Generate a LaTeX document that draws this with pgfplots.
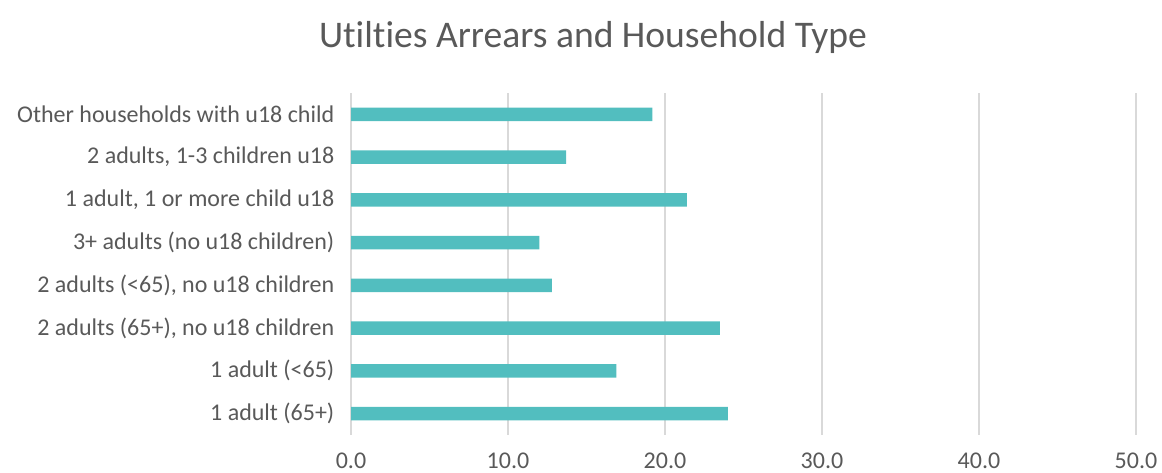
\documentclass[border=0pt]{standalone}
\usepackage{pgfplots}
\pgfplotsset{compat=1.18}
\usepackage{fontspec}
\setmainfont{Carlito}[Ligatures={NoCommon}]
\definecolor{barc}{HTML}{52BEBF}
\definecolor{txt}{HTML}{595959}
\definecolor{gridc}{HTML}{D9D9D9}
\begin{document}
\begin{tikzpicture}
\begin{axis}[
  at={(263.25pt,28.5pt)}, anchor=south west,
  scale only axis, width=588.75pt, height=256.5pt,
  xbar, bar width=10.1pt,
  xmin=0, xmax=50, ymin=-0.5, ymax=7.5,
  xtick={0,10,20,30,40,50},
  ytick={0,1,2,3,4,5,6,7},
  yticklabels={1 adult (65+),1 adult (<65),{2 adults (65+), no u18 children},{2 adults (<65), no u18 children},3+ adults (no u18 children),{1 adult, 1 or more child u18},{2 adults, 1-3 children u18},Other households with u18 child},
  xmajorgrids=true, ymajorgrids=false,
  major grid style={draw=gridc, line width=1.1pt},
  axis line style={draw=none},
  major tick length=0pt,
  tick label style={font=\fontsize{18}{21}\selectfont, text=txt},
  /pgf/number format/assume math mode=true,
  xticklabel={\pgfmathprintnumber[fixed,fixed zerofill,precision=1]{\tick}},
  xticklabel style={yshift=-10pt},
  yticklabel style={xshift=-9pt},
  clip=false,
]
\addplot[fill=barc, draw=none] coordinates {
(24.0,0) (16.9,1) (23.5,2) (12.8,3) (12.0,4) (21.4,5) (13.7,6) (19.2,7)};
\end{axis}
\node[text=txt, font=\fontsize{28.2}{33}\selectfont] at (444.75pt,327pt) {Utilties Arrears and Household Type};
\pgfresetboundingbox
\path (0,0) rectangle (871.5pt,354.75pt);
\end{tikzpicture}
\end{document}
